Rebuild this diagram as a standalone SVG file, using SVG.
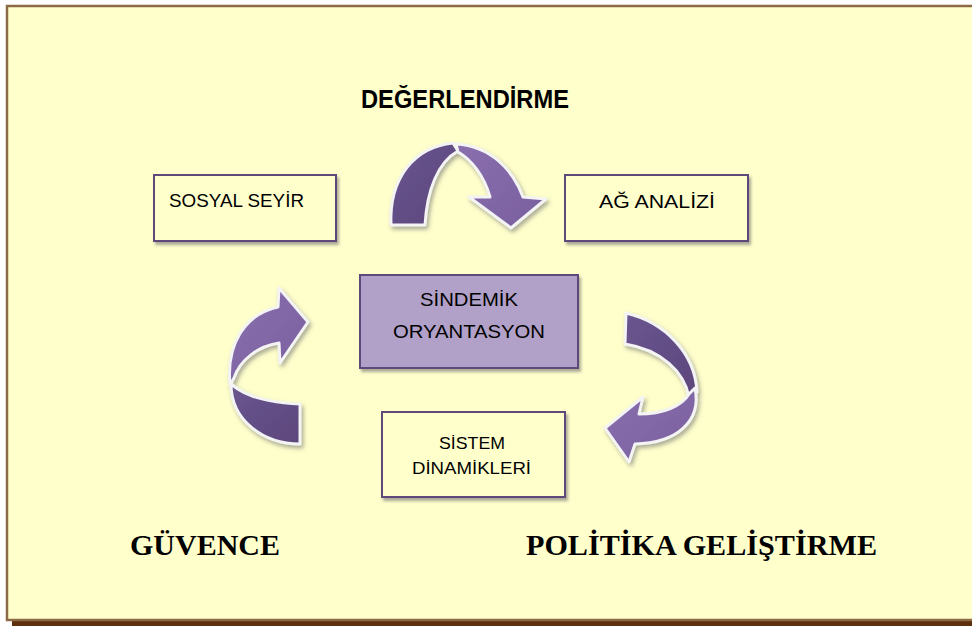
<svg xmlns="http://www.w3.org/2000/svg" width="972" height="626" viewBox="0 0 972 626">
<defs>
<filter id="sh" x="-20%" y="-20%" width="150%" height="150%">
<feDropShadow dx="2" dy="3" stdDeviation="1.5" flood-color="#707070" flood-opacity="0.6"/>
</filter>
<filter id="ash" x="-20%" y="-20%" width="150%" height="150%">
<feDropShadow dx="2" dy="3" stdDeviation="2" flood-color="#6a6a6a" flood-opacity="0.55"/>
</filter>
<linearGradient id="dark" x1="0" y1="0" x2="1" y2="1">
<stop offset="0" stop-color="#6a5590"/>
<stop offset="1" stop-color="#5c477b"/>
</linearGradient>
<linearGradient id="light" x1="0" y1="0" x2="1" y2="1">
<stop offset="0" stop-color="#8a6fae"/>
<stop offset="1" stop-color="#7a5f9e"/>
</linearGradient>
<style>
.box{fill:#ffffcc;stroke:#5f497a;stroke-width:2;filter:url(#sh)}
.cbox{fill:#b1a0c7;stroke:#5f497a;stroke-width:2;filter:url(#sh)}
.bt{font-family:"Liberation Sans",Arial,sans-serif;fill:#000}
.ttl{font-family:"Liberation Sans",Arial,sans-serif;font-weight:bold;fill:#000}
.big{font-family:"Liberation Serif","Times New Roman",serif;font-weight:bold;font-size:30px;fill:#000}
.dk{fill:url(#dark);stroke:#f4f4f4;stroke-width:3;stroke-linejoin:round}
.lt{fill:url(#light);stroke:#f4f4f4;stroke-width:3;stroke-linejoin:round}
</style>
</defs>
<g id="frame">
<rect x="12" y="11" width="990" height="620" fill="#5e2f0c"/>
<rect x="7" y="6" width="990" height="614" fill="#ffffcc" stroke="#8b6a45" stroke-width="2.5"/>
</g>
<g id="titles">
<text class="ttl" x="361" y="108" font-size="25" textLength="208" lengthAdjust="spacingAndGlyphs">DEĞERLENDİRME</text>
<text class="big" x="130" y="555" textLength="150" lengthAdjust="spacingAndGlyphs">GÜVENCE</text>
<text class="big" x="526" y="555" textLength="351" lengthAdjust="spacingAndGlyphs">POLİTİKA GELİŞTİRME</text>
</g>
<g id="connectors">
<g id="arrow-top" filter="url(#ash)">
<path class="dk" d="M391,225 C389,178 414,147 453,143 L458,151 C438,162 427,190 425,225 Z"/>
<path class="lt" d="M456,144 C491,146 513,170 523,197 L546,199 L511,228 L469,197 L490,197 C484,176 472,160 458,152 Z"/>
</g>
<g id="arrow-left" filter="url(#ash)">
<path class="dk" d="M300,444 C264,444 231,421 231,384 C245,396 270,403 300,404 Z"/>
<path class="lt" d="M230,385 C226,344 245,314 278,307 L279,288 L308,322 L280,363 L279,343 C258,346 240,360 234,378 Z"/>
</g>
<g id="arrow-right" filter="url(#ash)">
<path class="dk" d="M626,313 C664,322 695,352 697,392 L689,397 C684,372 662,350 625,344 Z"/>
<path class="lt" d="M695,388 C702,422 676,443 635,444 L629,462 L605,428 L643,397 L639,414 C663,414 682,406 689,394 Z"/>
</g>
</g>
<g id="sosyal-seyir">
<rect class="box" x="154" y="175" width="182" height="66"/>
<text class="bt" x="169" y="207" font-size="18" textLength="135" lengthAdjust="spacingAndGlyphs">SOSYAL SEYİR</text>
</g>
<g id="ag-analizi">
<rect class="box" x="565" y="175" width="183" height="66"/>
<text class="bt" x="657" y="208" font-size="18" text-anchor="middle" textLength="116" lengthAdjust="spacingAndGlyphs">AĞ ANALİZİ</text>
</g>
<g id="sindemik-oryantasyon">
<rect class="cbox" x="360" y="275" width="218" height="93"/>
<text class="bt" x="469" y="306" font-size="18.5" text-anchor="middle" textLength="98" lengthAdjust="spacingAndGlyphs">SİNDEMİK</text>
<text class="bt" x="469" y="338" font-size="18.5" text-anchor="middle" textLength="152" lengthAdjust="spacingAndGlyphs">ORYANTASYON</text>
</g>
<g id="sistem-dinamikleri">
<rect class="box" x="382" y="412" width="183" height="85"/>
<text class="bt" x="472" y="449" font-size="16.5" text-anchor="middle" textLength="66" lengthAdjust="spacingAndGlyphs">SİSTEM</text>
<text class="bt" x="471.5" y="474" font-size="16.5" text-anchor="middle" textLength="119" lengthAdjust="spacingAndGlyphs">DİNAMİKLERİ</text>
</g>
</svg>
